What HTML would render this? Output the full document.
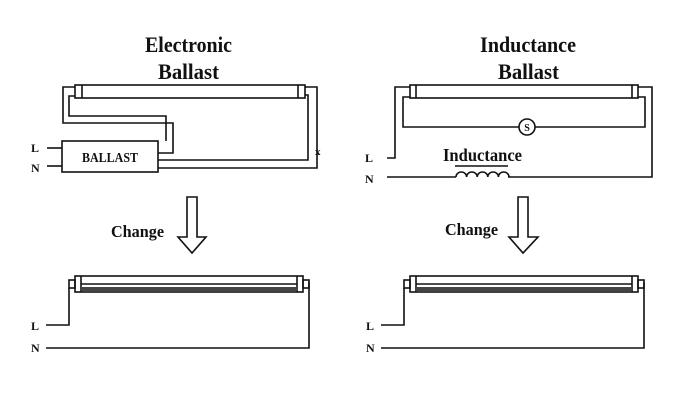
<!DOCTYPE html>
<html><head><style>
html,body{margin:0;padding:0;background:#fff;}
svg{display:block;}
text{font-family:"Liberation Serif",serif;font-weight:bold;fill:#111;}
</style></head><body>
<svg width="700" height="400" viewBox="0 0 700 400" xmlns="http://www.w3.org/2000/svg">
<g fill="none" stroke="#111" stroke-width="1.6">
<rect x="75" y="85" width="230" height="13"/>
<line x1="82" y1="85" x2="82" y2="98"/><line x1="298" y1="85" x2="298" y2="98"/>
<polyline points="75,87 63,87 63,123 173,123 173,153 158,153"/>
<polyline points="75,96 69,96 69,116 166,116 166,141"/>
<rect x="62" y="141" width="96" height="31"/>
<line x1="47" y1="148" x2="62" y2="148"/><line x1="47" y1="166" x2="62" y2="166"/>
<polyline points="305,95 308,95 308,160 158,160"/>
<polyline points="305,87 317,87 317,168 158,168"/>
<rect x="410" y="85" width="228" height="13"/>
<line x1="416" y1="85" x2="416" y2="98"/><line x1="632" y1="85" x2="632" y2="98"/>
<polyline points="387,158 395,158 395,87 410,87"/>
<polyline points="410,97 403,97 403,127 519,127"/>
<circle cx="527" cy="127" r="8"/>
<polyline points="535,127 645,127 645,97 638,97"/>
<polyline points="638,87 652,87 652,177 508,177"/>
<line x1="387" y1="177" x2="456" y2="177"/>
<path d="M456,177 a5.3,5 0 0 1 10.6,0 a5.3,5 0 0 1 10.6,0 a5.3,5 0 0 1 10.6,0 a5.3,5 0 0 1 10.6,0 a5.3,5 0 0 1 10.6,0"/>
<line x1="455" y1="166" x2="508" y2="166"/>
<polygon points="187,197 197,197 197,237 206,237 192,253 178,237 187,237"/>
<polygon points="518,197 528,197 528,237 538,237 523,253 509,237 518,237"/>
<rect x="75" y="276" width="228" height="16"/>
<rect x="69" y="280" width="6" height="8"/><rect x="303" y="280" width="6" height="8"/>
<line x1="81" y1="276" x2="81" y2="292"/><line x1="297" y1="276" x2="297" y2="292"/>
<line x1="81" y1="284" x2="297" y2="284"/>
<polyline points="69,288 69,325 46,325"/>
<polyline points="309,282 309,348 46,348"/>
<rect x="410" y="276" width="228" height="16"/>
<rect x="404" y="280" width="6" height="8"/><rect x="638" y="280" width="6" height="8"/>
<line x1="416" y1="276" x2="416" y2="292"/><line x1="632" y1="276" x2="632" y2="292"/>
<line x1="416" y1="284" x2="632" y2="284"/>
<polyline points="404,288 404,325 381,325"/>
<polyline points="644,282 644,348 381,348"/>
</g>
<rect x="82" y="287" width="215" height="4" fill="#444"/>
<rect x="416" y="287" width="216" height="4" fill="#444"/>
<text x="315" y="155" font-size="11">x</text>
<text x="527" y="131" font-size="10" text-anchor="middle">S</text>
<text x="145" y="52" font-size="22" textLength="87" lengthAdjust="spacingAndGlyphs">Electronic</text>
<text x="158" y="79" font-size="22" textLength="61" lengthAdjust="spacingAndGlyphs">Ballast</text>
<text x="480" y="52" font-size="22" textLength="96" lengthAdjust="spacingAndGlyphs">Inductance</text>
<text x="498" y="79" font-size="22" textLength="61" lengthAdjust="spacingAndGlyphs">Ballast</text>
<text x="82" y="162" font-size="14" textLength="56" lengthAdjust="spacingAndGlyphs">BALLAST</text>
<text x="443" y="161" font-size="18" textLength="79" lengthAdjust="spacingAndGlyphs">Inductance</text>
<text x="31" y="152" font-size="12">L</text>
<text x="31" y="172" font-size="12">N</text>
<text x="365" y="162" font-size="12">L</text>
<text x="365" y="183" font-size="12">N</text>
<text x="31" y="330" font-size="12">L</text>
<text x="31" y="352" font-size="12">N</text>
<text x="366" y="330" font-size="12">L</text>
<text x="366" y="352" font-size="12">N</text>
<text x="111" y="237" font-size="17" textLength="53" lengthAdjust="spacingAndGlyphs">Change</text>
<text x="445" y="235" font-size="17" textLength="53" lengthAdjust="spacingAndGlyphs">Change</text>
</svg>
</body></html>
